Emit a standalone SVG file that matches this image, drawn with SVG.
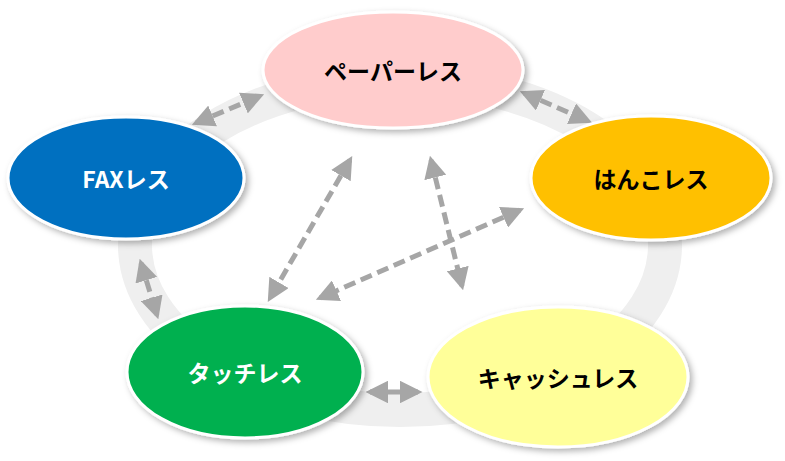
<svg xmlns="http://www.w3.org/2000/svg" width="785" height="461" viewBox="0 0 785 461">
<style>
.n{stroke:#fff;stroke-width:3;filter:url(#sh)}
.t{font-family:"Noto Sans CJK JP","Liberation Sans",sans-serif;font-weight:bold;font-size:23px;text-anchor:middle;dominant-baseline:central}
.c{stroke:#a6a6a6;stroke-width:5;stroke-dasharray:12 6;fill:none;marker-start:url(#a);marker-end:url(#a)}
</style>
<defs>
<marker id="a" viewBox="0 0 10 10" refX="8" refY="5" markerWidth="4.5" markerHeight="4.5" orient="auto-start-reverse"><path d="M0,0L10,5L0,10z" fill="#a6a6a6"/></marker>
<filter id="sh" x="-10%" y="-10%" width="125%" height="130%"><feDropShadow dx="3" dy="3" stdDeviation="3" flood-color="#000" flood-opacity="0.3"/></filter>
</defs>
<rect width="785" height="461" fill="#fff"/>
<ellipse cx="400" cy="245" rx="265" ry="165" fill="none" stroke="#efefef" stroke-width="34"/>
<g id="connectors">
<line class="c" x1="196" y1="123" x2="260" y2="96"/>
<line class="c" x1="524" y1="93" x2="588" y2="121"/>
<line class="c" x1="141" y1="263" x2="157" y2="315"/>
<line class="c" x1="370" y1="392" x2="418" y2="392" style="stroke-dasharray:none"/>
<line class="c" x1="350" y1="160" x2="270" y2="298"/>
<line class="c" x1="431" y1="160" x2="462" y2="286"/>
<line class="c" x1="520" y1="210" x2="320" y2="298"/>
</g>
<g id="paperless"><ellipse class="n" cx="393" cy="70" rx="130" ry="58" fill="#ffcccc"/><text class="t" x="393" y="70" fill="#000">ペーパーレス</text></g>
<g id="faxless"><ellipse class="n" cx="126" cy="178" rx="118" ry="61" fill="#0070c0"/><text class="t" x="126" y="178" fill="#fff">FAXレス</text></g>
<g id="hankoless"><ellipse class="n" cx="651" cy="178" rx="120" ry="62" fill="#ffc000"/><text class="t" x="651" y="178" fill="#000">はんこレス</text></g>
<g id="touchless"><ellipse class="n" cx="245" cy="372" rx="118" ry="66" fill="#00b050"/><text class="t" x="245" y="372" fill="#fff">タッチレス</text></g>
<g id="cashless"><ellipse class="n" cx="558" cy="377" rx="130" ry="70" fill="#ffff99"/><text class="t" x="558" y="377" fill="#000">キャッシュレス</text></g>
</svg>
